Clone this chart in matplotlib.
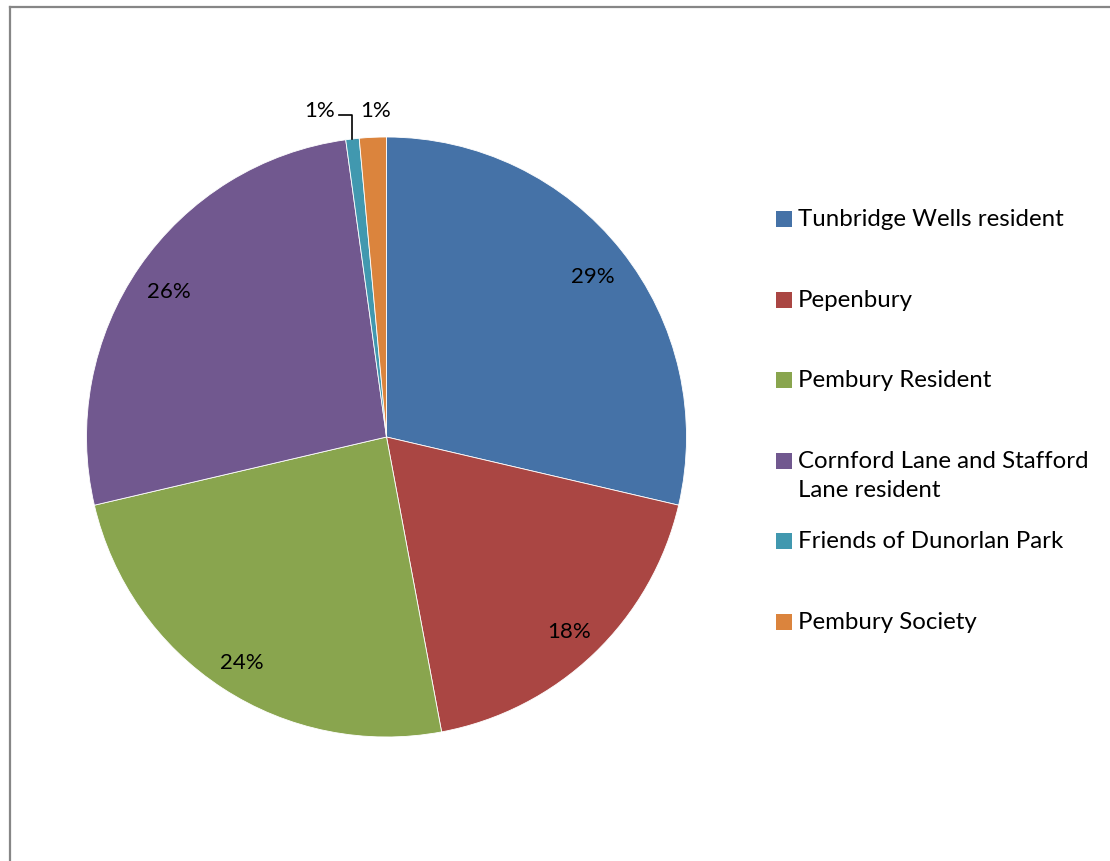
import numpy as np
import matplotlib.pyplot as plt
from matplotlib.lines import Line2D
from matplotlib.patches import Rectangle

plt.rcParams['font.family'] = ['Lato', 'DejaVu Sans']

labels = ["Tunbridge Wells resident", "Pepenbury", "Pembury Resident",
          "Cornford Lane and Stafford\nLane resident", "Friends of Dunorlan Park",
          "Pembury Society"]
shares = [28.65, 18.41, 24.29, 26.48, 0.72, 1.45]
colors = ["#4572A7", "#AA4643", "#89A54E", "#71588F", "#4198AF", "#DB843D"]

W, H = 1110, 861
fig = plt.figure(figsize=(W / 100, H / 100), dpi=100)

# pie axes: centre (386.5, 437) px, radius 300 px
cx, cy, r = 386.5, 437, 300
ax = fig.add_axes([(cx - r) / W, (H - cy - r) / H, 2 * r / W, 2 * r / H])


def pct(v):
    return f"{v:.0f}%" if v >= 5 else ""


wedges, texts, autotexts = ax.pie(
    shares, colors=colors, startangle=90, counterclock=False,
    autopct=pct, pctdistance=0.88, radius=1,
    wedgeprops=dict(edgecolor="white", linewidth=0.6),
    textprops=dict(fontsize=16, color="black"))
for t in autotexts:
    x, y = t.get_position()
    t.set_position((x, y - 0.015))
ax.set_xlim(-1, 1)
ax.set_ylim(-1, 1)
ax.set_aspect("equal")
ax.axis("off")

# outside labels for the two tiny slices
for i, w in enumerate(wedges):
    if shares[i] >= 5:
        continue
    mid = np.deg2rad((w.theta1 + w.theta2) / 2)
    x, y = np.cos(mid), np.sin(mid)
    if i == 4:
        ax.plot([x, x, x - 0.045], [y, 1.072, 1.072], color="black", lw=1.2,
                clip_on=False)
        ax.text(x - 0.06, 1.085, "%.0f%%" % shares[i], ha="right", va="center",
                fontsize=16)
    else:
        ax.text(x + 0.01, 1.085, "%.0f%%" % shares[i], ha="center", va="center",
                fontsize=16)

# legend, drawn row by row
row0, step = 219, 80.6
for i, (lab, col) in enumerate(zip(labels, colors)):
    ym = row0 + i * step
    fig.add_artist(Rectangle((776 / W, (H - ym - 8) / H), 16 / W, 16 / H,
                             transform=fig.transFigure, facecolor=col,
                             edgecolor="none"))
    fig.text(798 / W, (H - ym + 10) / H, lab, fontsize=17.3, va="top",
             ha="left", linespacing=1.5)

# chart border (top and left edges visible)
fig.add_artist(Line2D([10 / W, 1.0], [(H - 7) / H] * 2, color="#868686",
                      lw=1.6, transform=fig.transFigure))
fig.add_artist(Line2D([10 / W] * 2, [0, (H - 7) / H], color="#868686",
                      lw=1.6, transform=fig.transFigure))

fig.savefig("out.png", dpi=100)
